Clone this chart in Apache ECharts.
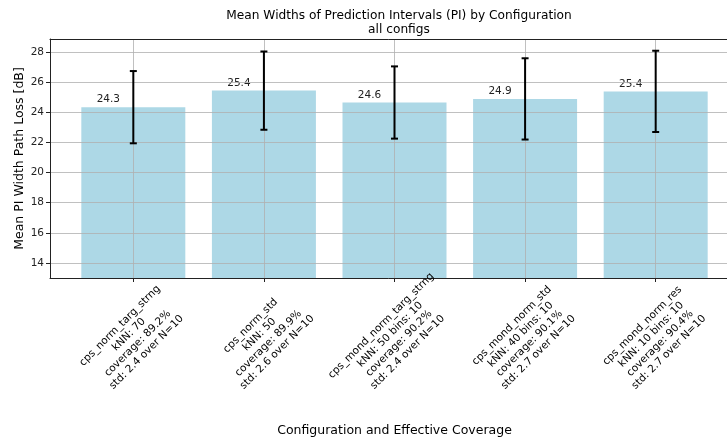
<!DOCTYPE html>
<html>
<head>
<meta charset="utf-8">
<script src="https://cdn.jsdelivr.net/npm/echarts@6/dist/echarts.min.js"></script>
<style>
  html, body { margin: 0; padding: 0; background: #fff; }
  #main { width: 727px; height: 440px; }
</style>
</head>
<body>
<div id="main"></div>
<script>
  // 各配置名称（x轴标签，多行）
  var configNames = [
      ['cps_norm_targ_strng', 'kNN: 70', 'coverage: 89.2%', 'std: 2.4 over N=10'],
      ['cps_norm_std', 'kNN: 50', 'coverage: 89.9%', 'std: 2.6 over N=10'],
      ['cps_mond_norm_targ_strng', 'kNN: 50 bins: 10', 'coverage: 90.2%', 'std: 2.4 over N=10'],
      ['cps_mond_norm_std', 'kNN: 40 bins: 10', 'coverage: 90.1%', 'std: 2.7 over N=10'],
      ['cps_mond_norm_res', 'kNN: 10 bins: 10', 'coverage: 90.4%', 'std: 2.7 over N=10']
  ];
  // 平均区间宽度
  var meanWidths = [24.35, 25.45, 24.66, 24.90, 25.40];
  // 标准差（误差线）
  var stdWidths = [2.4, 2.6, 2.4, 2.7, 2.7];
  // 柱上显示的数值
  var barLabels = ['24.3', '25.4', '24.6', '24.9', '25.4'];
  // y轴刻度
  var yTicks = [14, 16, 18, 20, 22, 24, 26, 28];
  var xTicks = [0, 1, 2, 3, 4];

  var myChart = echarts.init(document.getElementById('main'));

  var barData = meanWidths.map(function (v, i) { return [i, v]; });
  var errData = meanWidths.map(function (v, i) { return [i, v - stdWidths[i], v + stdWidths[i]]; });

  var font = 'DejaVu Sans';

  var option = {
      animation: false,
      backgroundColor: '#fff',
      title: {
          text: 'Mean Widths of Prediction Intervals (PI) by Configuration\nall configs',
          left: 394,
          top: 4,
          textAlign: 'center',
          textStyle: {
              fontFamily: font,
              fontSize: 12.2,
              fontWeight: 'normal',
              color: '#000',
              lineHeight: 14
          }
      },
      grid: {
          left: 50,
          width: 689, // 右侧超出画布，与原图一致
          top: 39,
          height: 239,
          outerBoundsMode: 'none'
      },
      xAxis: [{
          type: 'value',
          min: -0.638,
          max: 4.638,
          z: 3,
          name: 'Configuration and Effective Coverage',
          nameLocation: 'middle',
          nameGap: 146,
          nameMoveOverlap: false,
          nameTextStyle: { fontFamily: font, fontSize: 12.5, color: '#000', verticalAlign: 'top' },
          axisLine: { show: true, onZero: false, lineStyle: { color: '#222', width: 1 } },
          axisTick: { show: true, length: 4, customValues: xTicks, lineStyle: { color: '#222' } },
          splitLine: { show: true, lineStyle: { color: '#b0b0b0', width: 0.8 } },
          axisLabel: {
              customValues: xTicks,
              rotate: 45,
              align: 'center',
              verticalAlign: 'middle',
              margin: 61,
              fontFamily: font,
              fontSize: 10.5,
              color: '#000',
              formatter: function (value) {
                  var lines = configNames[Math.round(value)] || [];
                  return lines.map(function (s) { return '{c|' + s + '}'; }).join('\n');
              },
              rich: {
                  c: { align: 'center', fontFamily: font, fontSize: 10.5, lineHeight: 12.5, color: '#000' }
              }
          }
      }, {
          // 上边框
          type: 'value',
          position: 'top',
          min: -0.638,
          max: 4.638,
          z: 3,
          axisLine: { show: true, onZero: false, lineStyle: { color: '#222', width: 1 } },
          axisTick: { show: false },
          axisLabel: { show: false },
          splitLine: { show: false }
      }],
      yAxis: {
          type: 'value',
          min: 13,
          max: 28.88,
          z: 3,
          name: 'Mean PI Width Path Loss [dB]',
          nameLocation: 'middle',
          nameGap: 24,
          nameMoveOverlap: false,
          nameTextStyle: { fontFamily: font, fontSize: 12.5, color: '#000' },
          axisLine: { show: true, onZero: false, lineStyle: { color: '#222', width: 1 } },
          axisTick: { show: true, length: 4, customValues: yTicks, lineStyle: { color: '#222' } },
          axisLabel: { customValues: yTicks, fontFamily: font, fontSize: 10.5, color: '#222', margin: 6 },
          splitLine: { show: true, lineStyle: { color: '#b0b0b0', width: 0.8 } }
      },
      series: [{
          type: 'bar',
          data: barData,
          barWidth: 104,
          itemStyle: { color: '#add8e6' },
          label: {
              show: true,
              position: 'top',
              offset: [-25, 0],
              distance: 2,
              fontFamily: font,
              fontSize: 10.5,
              color: '#222',
              formatter: function (p) { return barLabels[p.dataIndex]; }
          }
      }, {
          type: 'custom',
          z: 5,
          data: errData,
          renderItem: function (params, api) {
              var x = api.value(0);
              var lo = api.coord([x, api.value(1)]);
              var hi = api.coord([x, api.value(2)]);
              var cap = 3.5;
              var style = { stroke: '#000', lineWidth: 2 };
              return {
                  type: 'group',
                  children: [
                      { type: 'line', shape: { x1: lo[0], y1: lo[1], x2: hi[0], y2: hi[1] }, style: style },
                      { type: 'line', shape: { x1: hi[0] - cap, y1: hi[1], x2: hi[0] + cap, y2: hi[1] }, style: style },
                      { type: 'line', shape: { x1: lo[0] - cap, y1: lo[1], x2: lo[0] + cap, y2: lo[1] }, style: style }
                  ]
              };
          }
      }]
  };

  myChart.setOption(option);
</script>
</body>
</html>
